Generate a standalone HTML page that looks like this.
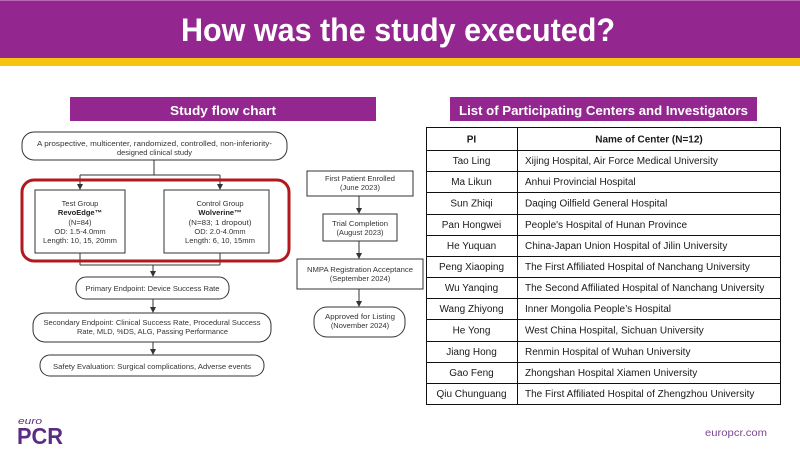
<!DOCTYPE html>
<html><head><meta charset="utf-8"><style>
html,body{margin:0;padding:0;background:#fff;}
svg{display:block;}
text{font-family:"Liberation Sans",sans-serif;}
</style></head><body>
<svg width="800" height="450" viewBox="0 0 800 450" xmlns="http://www.w3.org/2000/svg">
<defs>
<marker id="ar" markerWidth="6" markerHeight="6" refX="5" refY="3" orient="auto" markerUnits="userSpaceOnUse"><path d="M0,0 L6,3 L0,6 z" fill="#333"/></marker>
</defs>
<!-- header -->
<rect x="0" y="0" width="800" height="58" fill="#93278f"/>
<rect x="0" y="0" width="800" height="1" fill="#b868b4"/>
<rect x="0" y="58" width="800" height="8" fill="#f5c512"/>
<text x="398" y="41" text-anchor="middle" font-size="32" font-weight="bold" fill="#fff" textLength="434" lengthAdjust="spacingAndGlyphs">How was the study executed?</text>

<!-- section headers -->
<rect x="70" y="97" width="306" height="24" fill="#93278f"/>
<text x="223" y="115" text-anchor="middle" font-size="13" font-weight="bold" fill="#fff" textLength="106" lengthAdjust="spacingAndGlyphs">Study flow chart</text>
<rect x="450" y="97" width="307" height="24" fill="#93278f"/>
<text x="603.5" y="115" text-anchor="middle" font-size="13" font-weight="bold" fill="#fff" textLength="289" lengthAdjust="spacingAndGlyphs">List of Participating Centers and Investigators</text>

<!-- flow chart -->
<g fill="none" stroke="#333" stroke-width="1">
<rect x="22" y="132" width="265" height="28" rx="12"/>
<path d="M154,160 V175 M80,175 H220"/>
<path d="M80,175 V189" marker-end="url(#ar)"/>
<path d="M220,175 V189" marker-end="url(#ar)"/>
<rect x="35" y="190" width="90" height="63"/>
<rect x="164" y="190" width="105" height="63"/>
<path d="M80,253 V265 M220,253 V265 M80,265 H220"/>
<path d="M153,265 V276" marker-end="url(#ar)"/>
<rect x="76" y="277" width="153" height="22" rx="10"/>
<path d="M153,299 V312" marker-end="url(#ar)"/>
<rect x="33" y="313" width="238" height="29" rx="12"/>
<path d="M153,342 V354" marker-end="url(#ar)"/>
<rect x="40" y="355" width="224" height="21" rx="10"/>
</g>
<rect x="22" y="180" width="267" height="81" rx="12" fill="none" stroke="#b3191c" stroke-width="3"/>

<g font-size="7.5" fill="#333" text-anchor="middle">
<text x="154.5" y="146" textLength="235" lengthAdjust="spacingAndGlyphs">A prospective, multicenter, randomized, controlled, non-inferiority-</text>
<text x="154.5" y="155">designed clinical study</text>
<text x="80" y="206">Test Group</text>
<text x="80" y="215" font-weight="bold" fill="#222">RevoEdge™</text>
<text x="80" y="225">(N=84)</text>
<text x="80" y="234">OD: 1.5-4.0mm</text>
<text x="80" y="243" textLength="74" lengthAdjust="spacingAndGlyphs">Length: 10, 15, 20mm</text>
<text x="220" y="206">Control Group</text>
<text x="220" y="215" font-weight="bold" fill="#222">Wolverine™</text>
<text x="220" y="225" textLength="63" lengthAdjust="spacingAndGlyphs">(N=83; 1 dropout)</text>
<text x="220" y="234">OD: 2.0-4.0mm</text>
<text x="220" y="243" textLength="70" lengthAdjust="spacingAndGlyphs">Length: 6, 10, 15mm</text>
<text x="152.5" y="291" textLength="134" lengthAdjust="spacingAndGlyphs">Primary Endpoint: Device Success Rate</text>
<text x="152" y="325" textLength="217" lengthAdjust="spacingAndGlyphs">Secondary Endpoint: Clinical Success Rate, Procedural Success</text>
<text x="152.5" y="334" textLength="151" lengthAdjust="spacingAndGlyphs">Rate, MLD, %DS, ALG, Passing Performance</text>
<text x="152" y="369" textLength="198" lengthAdjust="spacingAndGlyphs">Safety Evaluation: Surgical complications, Adverse events</text>
</g>

<!-- timeline -->
<g fill="none" stroke="#333" stroke-width="1">
<rect x="307" y="171" width="106" height="25"/>
<path d="M359,196 V213" marker-end="url(#ar)"/>
<rect x="323" y="214" width="74" height="27"/>
<path d="M359,241 V258" marker-end="url(#ar)"/>
<rect x="297" y="259" width="126" height="30"/>
<path d="M359,289 V306" marker-end="url(#ar)"/>
<rect x="314" y="307" width="91" height="30" rx="13"/>
</g>
<g font-size="7.5" fill="#333" text-anchor="middle">
<text x="360" y="181" textLength="70" lengthAdjust="spacingAndGlyphs">First Patient Enrolled</text>
<text x="360" y="190">(June 2023)</text>
<text x="360" y="226" textLength="56" lengthAdjust="spacingAndGlyphs">Trial Completion</text>
<text x="360" y="235">(August 2023)</text>
<text x="360" y="272" textLength="106" lengthAdjust="spacingAndGlyphs">NMPA Registration Acceptance</text>
<text x="360" y="281">(September 2024)</text>
<text x="360" y="319" textLength="70" lengthAdjust="spacingAndGlyphs">Approved for Listing</text>
<text x="360" y="328">(November 2024)</text>
</g>

<!-- table -->
<g stroke="#111" stroke-width="1" fill="none">
<rect x="426.5" y="127.5" width="354" height="277"/>
<path d="M517.5,127.5 V404.5"/>
<path d="M426.5,150.5 H780.5 M426.5,171.5 H780.5 M426.5,192.5 H780.5 M426.5,214.5 H780.5 M426.5,235.5 H780.5 M426.5,256.5 H780.5 M426.5,277.5 H780.5 M426.5,298.5 H780.5 M426.5,319.5 H780.5 M426.5,341.5 H780.5 M426.5,362.5 H780.5 M426.5,383.5 H780.5"/>
</g>
<g font-size="10" fill="#1a1a1a">
<text x="471.5" y="142.5" text-anchor="middle" font-weight="bold">PI</text>
<text x="649" y="142.5" text-anchor="middle" font-weight="bold">Name of Center (N=12)</text>
<g text-anchor="middle">
<text x="471.5" y="164">Tao Ling</text>
<text x="471.5" y="185">Ma Likun</text>
<text x="471.5" y="206.5">Sun Zhiqi</text>
<text x="471.5" y="228">Pan Hongwei</text>
<text x="471.5" y="249">He Yuquan</text>
<text x="471.5" y="270">Peng Xiaoping</text>
<text x="471.5" y="291">Wu Yanqing</text>
<text x="471.5" y="312">Wang Zhiyong</text>
<text x="471.5" y="333.5">He Yong</text>
<text x="471.5" y="355">Jiang Hong</text>
<text x="471.5" y="376">Gao Feng</text>
<text x="471.5" y="397">Qiu Chunguang</text>
</g>
<text x="525" y="164">Xijing Hospital, Air Force Medical University</text>
<text x="525" y="185">Anhui Provincial Hospital</text>
<text x="525" y="206.5">Daqing Oilfield General Hospital</text>
<text x="525" y="228">People's Hospital of Hunan Province</text>
<text x="525" y="249">China-Japan Union Hospital of Jilin University</text>
<text x="525" y="270">The First Affiliated Hospital of Nanchang University</text>
<text x="525" y="291">The Second Affiliated Hospital of Nanchang University</text>
<text x="525" y="312">Inner Mongolia People’s Hospital</text>
<text x="525" y="333.5">West China Hospital, Sichuan University</text>
<text x="525" y="355">Renmin Hospital of Wuhan University</text>
<text x="525" y="376">Zhongshan Hospital Xiamen University</text>
<text x="525" y="397">The First Affiliated Hospital of Zhengzhou University</text>
</g>

<!-- footer -->
<text x="18" y="424" font-size="9" font-style="italic" fill="#5b2c83" textLength="24" lengthAdjust="spacingAndGlyphs">euro</text>
<text x="17" y="444" font-size="23" font-weight="bold" fill="#5b2c83" textLength="46" lengthAdjust="spacingAndGlyphs">PCR</text>
<text x="705" y="436" font-size="10.5" fill="#7a4a92" textLength="62" lengthAdjust="spacingAndGlyphs">europcr.com</text>
</svg>
</body></html>
